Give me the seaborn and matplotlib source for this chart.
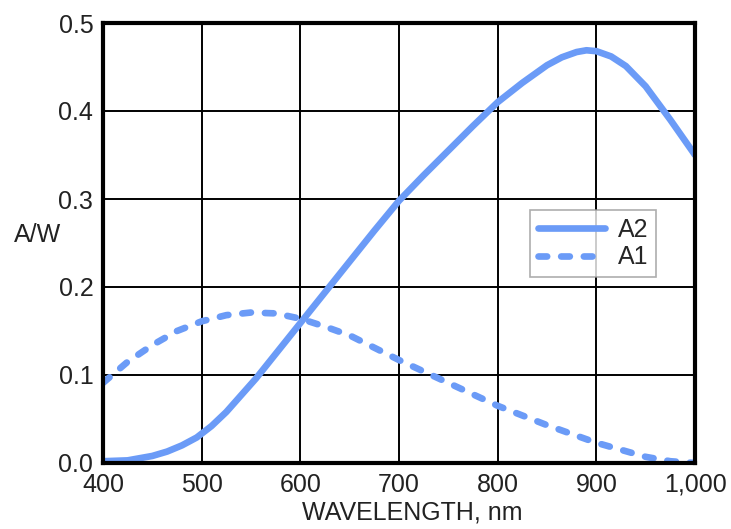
import numpy as np
import pandas as pd
import matplotlib
matplotlib.use("Agg")
import matplotlib.pyplot as plt
import matplotlib.ticker as mticker
import seaborn as sns

# values, responsivity in A/W
wl_a2 = [400, 425, 450, 465, 480, 495, 510, 525, 540, 555, 570, 585, 600,
         625, 650, 675, 700, 725, 750, 775, 800, 825, 850, 865, 880, 890,
         900, 915, 930, 950, 975, 1000]
a2 = [0.002, 0.003, 0.008, 0.013, 0.020, 0.029, 0.042, 0.058, 0.077, 0.096,
      0.117, 0.138, 0.159, 0.194, 0.229, 0.264, 0.298, 0.327, 0.355, 0.383,
      0.410, 0.432, 0.452, 0.461, 0.467, 0.469, 0.468, 0.462, 0.451, 0.428,
      0.390, 0.350]

wl_a1 = [400, 425, 450, 475, 500, 525, 550, 575, 600, 625, 650, 675, 700,
         725, 750, 775, 800, 825, 850, 875, 900, 925, 950, 975, 1000]
a1 = [0.091, 0.115, 0.134, 0.150, 0.161, 0.168, 0.171, 0.170, 0.164, 0.155,
      0.145, 0.131, 0.117, 0.104, 0.091, 0.078, 0.065, 0.054, 0.043, 0.033,
      0.023, 0.015, 0.007, 0.002, 0.000]

x_ticks = [400, 500, 600, 700, 800, 900, 1000]
y_ticks = [0.0, 0.1, 0.2, 0.3, 0.4, 0.5]

blue = "#6b9bf7"
dash = (1.3, 2.1)

sns.set_style("white")
plt.rcParams['font.family'] = ['Liberation Sans', 'DejaVu Sans']

df2 = pd.DataFrame({"wl": wl_a2, "aw": a2})
df1 = pd.DataFrame({"wl": wl_a1, "aw": a1})

fig = plt.figure(figsize=(7.31, 5.29), dpi=100)
ax = fig.add_axes([103 / 731, 66 / 529, 592 / 731, 440 / 529])

sns.lineplot(data=df2, x="wl", y="aw", ax=ax, color=blue, linewidth=4.8,
             label="A2", solid_capstyle="round", solid_joinstyle="round")
sns.lineplot(data=df1, x="wl", y="aw", ax=ax, color=blue, linewidth=4.8,
             label="A1", dash_capstyle="round")
ax.lines[1].set_dashes(dash)

ax.set_xlim(400, 1000)
ax.set_ylim(0, 0.5)
ax.set_xticks(x_ticks)
ax.set_yticks(y_ticks)
ax.xaxis.set_major_formatter(mticker.FuncFormatter(lambda v, p: f"{int(v):,}"))
ax.yaxis.set_major_formatter(mticker.FormatStrFormatter("%.1f"))
ax.tick_params(length=0, labelsize=18, colors="#222222", pad=7)
ax.grid(True, color="black", linewidth=1.4)
ax.set_axisbelow(True)
for s in ax.spines.values():
    s.set_color("black")
    s.set_linewidth(3)

ax.set_xlabel("WAVELENGTH, nm", fontsize=18, color="#222222")
ax.xaxis.set_label_coords(0.522, -0.085)
ax.set_ylabel("A/W", fontsize=18, rotation=0, color="#222222")
ax.yaxis.set_label_coords(-0.11, 0.49)

leg = ax.legend(loc="upper left", bbox_to_anchor=(0.722, 0.575), fontsize=18,
                frameon=True, fancybox=False, handlelength=2.7,
                borderpad=0.3, labelspacing=0.15, handletextpad=0.5,
                borderaxespad=0)
leg.get_frame().set_edgecolor("#999999")
leg.get_frame().set_linewidth(1.2)
leg.get_lines()[1].set_dashes(dash)

fig.savefig("out.png", dpi=100)
